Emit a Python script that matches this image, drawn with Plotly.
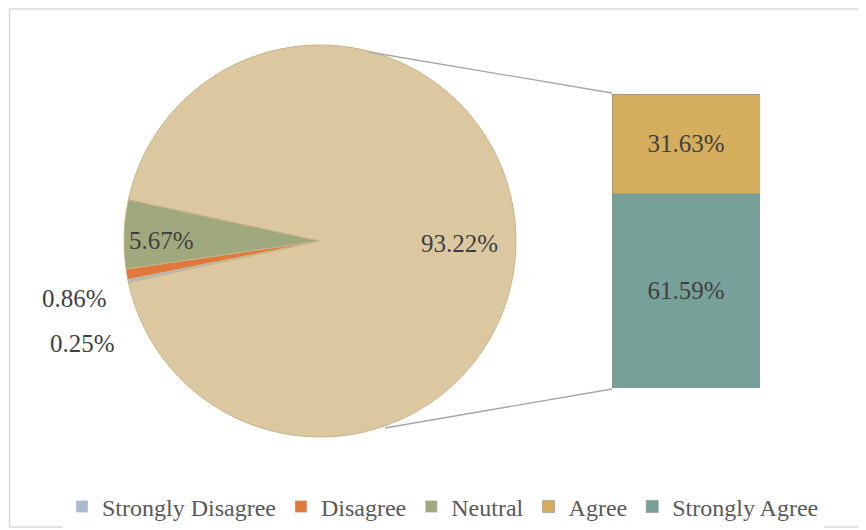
import plotly.graph_objects as go

# values (percent)
pie_labels = ["Strongly Disagree", "Disagree", "Neutral"]
pie_values = [0.25, 0.86, 5.67]
bar_labels = ["Agree", "Strongly Agree"]
bar_values = [31.63, 61.59]

colors = {
    "Strongly Disagree": "#A9BBCF",
    "Disagree": "#E0783C",
    "Neutral": "#A0A87E",
    "Agree": "#D4AE5C",
    "Strongly Agree": "#76A098",
}
other_color = "#DBC7A0"
OFF = 8  # page body margin
W, H = 866 - OFF, 530 - OFF
FONT = "Liberation Serif"
TXT = "#404040"


def px(x, y):
    # window pixel -> paper coords
    return (x - OFF) / W, 1 - (y - OFF) / H


other_total = round(sum(bar_values), 2)
slice_values = pie_values + [other_total]
small_total = sum(pie_values)
# small slices centred on the left (9 o'clock), clockwise from the bottom
start = 270 - small_total / 100 * 360 / 2

fig = go.Figure()

px0, py0 = px(124, 437)
px1, py1 = px(516, 45)
fig.add_trace(go.Pie(
    labels=pie_labels + ["Other"],
    values=slice_values,
    sort=False,
    direction="clockwise",
    rotation=start,
    marker=dict(colors=[colors[l] for l in pie_labels] + [other_color],
                line=dict(color="#C9B38A", width=1)),
    textinfo="none",
    hoverinfo="label+value",
    showlegend=False,
    domain=dict(x=[px0, px1], y=[py0, py1]),
))

# stacked bar (bottom first)
for name, val in [("Strongly Agree", bar_values[1]), ("Agree", bar_values[0])]:
    fig.add_trace(go.Bar(
        x=[0], y=[val], name=name, width=1,
        marker=dict(color=colors[name], line=dict(color="#8C8C8C", width=0.6)),
        text=[f"{val:.2f}%"], textposition="inside", insidetextanchor="middle",
        textfont=dict(family=FONT, size=25, color=TXT),
        constraintext="none",
        legendrank=4 if name == "Agree" else 5,
    ))

# legend-only entries for the pie categories
for i, name in enumerate(pie_labels):
    fig.add_trace(go.Bar(x=[None], y=[None], name=name,
                         marker=dict(color=colors[name]), legendrank=i + 1))

# data labels for the pie
pie_label_pos = [(82, 343), (74, 298), (161, 240)]
for (x, y), v in zip(pie_label_pos, pie_values):
    ax, ay = px(x, y)
    fig.add_annotation(x=ax, y=ay, xref="paper", yref="paper", text=f"{v:.2f}%",
                       xanchor="center", yanchor="middle", showarrow=False,
                       font=dict(family=FONT, size=25, color=TXT))
ax, ay = px(459, 243)
fig.add_annotation(x=ax, y=ay, xref="paper", yref="paper", text=f"{other_total:.2f}%",
                   xanchor="center", yanchor="middle", showarrow=False,
                   font=dict(family=FONT, size=25, color=TXT))

# connector lines and chart frame
for (x0, y0), (x1, y1) in [((369, 52), (612, 93)), ((385, 428), (612, 389))]:
    a0, b0 = px(x0, y0)
    a1, b1 = px(x1, y1)
    fig.add_shape(type="line", xref="paper", yref="paper", x0=a0, y0=b0, x1=a1, y1=b1,
                  line=dict(color="#A6A6A6", width=1.3))
fx0, fy0 = px(9.5, 9)
fx1, fy1 = px(864, 527)
fig.add_shape(type="rect", xref="paper", yref="paper", x0=fx0, y0=fy1, x1=fx1, y1=fy0,
              line=dict(color="#D9D9D9", width=1.5))

bx0, by0 = px(612, 388)
bx1, by1 = px(760, 94)
lx, ly = px(443, 507)
fig.update_layout(
    width=W, height=H,
    margin=dict(l=0, r=0, t=0, b=0),
    paper_bgcolor="white", plot_bgcolor="white",
    barmode="stack",
    xaxis=dict(domain=[bx0, bx1], range=[-0.5, 0.5], visible=False),
    yaxis=dict(domain=[by0, by1], range=[0, other_total], visible=False),
    legend=dict(orientation="h", x=lx, xanchor="center", y=ly, yanchor="middle",
                font=dict(family=FONT, size=24, color="#595959"),
                itemwidth=30, traceorder="normal"),
    font=dict(family=FONT),
)

fig.write_html("out.html")
